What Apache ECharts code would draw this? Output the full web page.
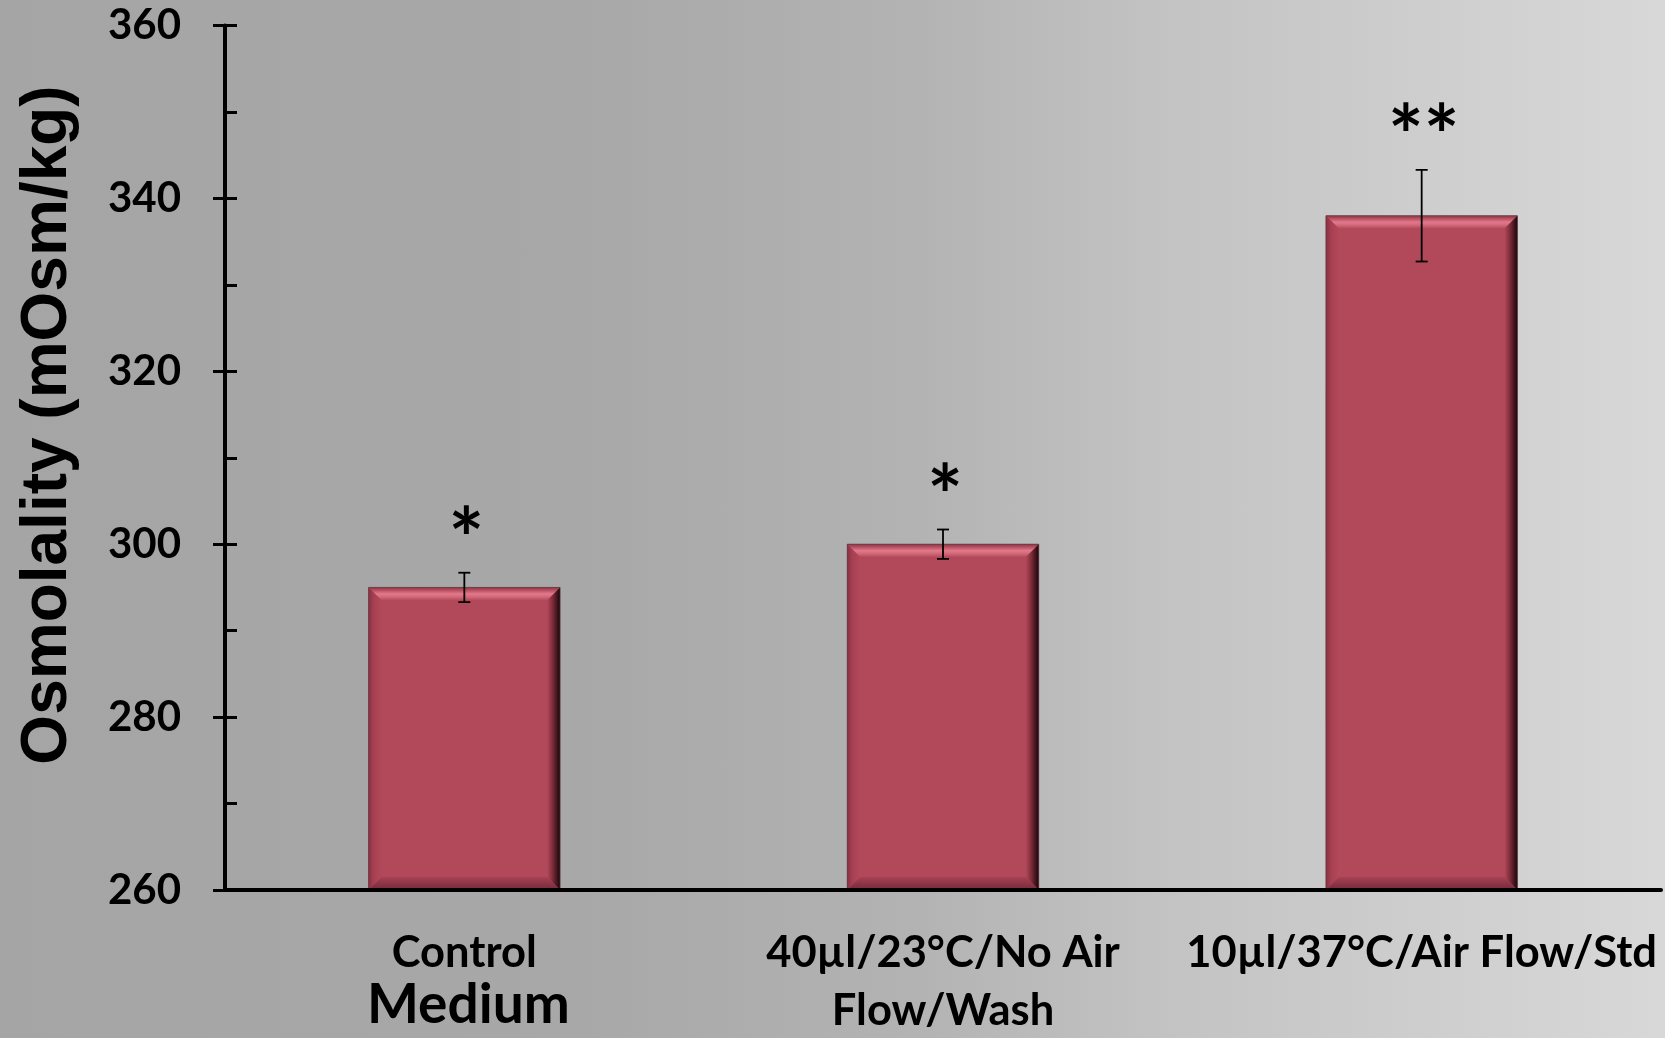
<!DOCTYPE html>
<html>
<head>
<meta charset="utf-8">
<script src="https://cdn.jsdelivr.net/npm/echarts@6/dist/echarts.min.js"></script>
<style>
  html, body { margin: 0; padding: 0; }
  #chart {
    width: 1665px; height: 1038px;
    background: linear-gradient(to right, #a5a5a5 0%, #a8a8a8 35%, #b3b3b3 55%, #c3c3c3 70%, #cacaca 80%, #d8d8d8 100%);
  }
</style>
</head>
<body>
<div id="chart"></div>
<script>
// Osmolality of culture medium under three handling conditions (mean ± error)
const categories = ['Control\nMedium', '40µl/23°C/No Air\nFlow/Wash', '10µl/37°C/Air Flow/Std'];
const means = [295, 300, 338];
const errors = [1.7, 1.7, 5.3];
const significance = ['*', '*', '**'];
const yTicks = { min: 260, max: 360, interval: 20 };
const yTitle = 'Osmolality (mOsm/kg)';

const labelFont = 'Lato';
const chart = echarts.init(document.getElementById('chart'), null, { renderer: 'canvas' });

const barData = means.map((v, i) => [i, v]);
const errData = means.map((v, i) => [i, v - errors[i], v + errors[i]]);

const BAR_FRACTION = 0.4;
const BEVEL = 13;

function lg(x0, y0, x1, y1, stops) {
  return new echarts.graphic.LinearGradient(x0, y0, x1, y1,
    stops.map(s => ({ offset: s[0], color: s[1] })));
}

// Bevelled bar: flat face plus four shaded edge trapezoids
function renderBar(params, api) {
  const i = api.value(0);
  const top = api.coord([i, api.value(1)]);
  const base = api.coord([i, yTicks.min]);
  const w = api.size([1, 0])[0] * BAR_FRACTION;
  const x0 = top[0] - w / 2, x1 = top[0] + w / 2;
  const y0 = top[1], y1 = base[1];
  const d = BEVEL;
  const face = '#b2495a';
  return {
    type: 'group',
    children: [
      { type: 'rect', shape: { x: x0, y: y0, width: w, height: y1 - y0 }, style: { fill: face } },
      { type: 'polygon', shape: { points: [[x0, y0], [x1, y0], [x1 - d, y0 + d], [x0 + d, y0 + d]] },
        style: { fill: lg(0, 0, 0, 1, [[0, '#8c3848'], [0.2, '#b44c5e'], [0.5, '#e27a8b'], [0.75, '#d06576'], [1, face]]) } },
      { type: 'polygon', shape: { points: [[x0, y0], [x0 + d, y0 + d], [x0 + d, y1 - d], [x0, y1]] },
        style: { fill: lg(0, 0, 1, 0, [[0, '#8a3142'], [0.4, '#a64052'], [1, face]]) } },
      { type: 'polygon', shape: { points: [[x1 - d, y0 + d], [x1, y0], [x1, y1], [x1 - d, y1 - d]] },
        style: { fill: lg(0, 0, 1, 0, [[0, face], [0.45, '#7a2a38'], [0.8, '#3a121a'], [1, '#1c080c']]) } },
      { type: 'polygon', shape: { points: [[x0, y1], [x0 + d, y1 - d], [x1 - d, y1 - d], [x1, y1]] },
        style: { fill: lg(0, 0, 0, 1, [[0, '#a64254'], [1, '#74293a']]) } },
      { type: 'rect', shape: { x: x0, y: y0, width: w, height: y1 - y0 },
        style: { fill: null, stroke: 'rgba(90,50,58,0.7)', lineWidth: 1 } }
    ]
  };
}

// Error bar with end caps and the significance marker above it
function renderErr(params, api) {
  const i = api.value(0);
  const lo = api.coord([i, api.value(1)]);
  const hi = api.coord([i, api.value(2)]);
  const cx = lo[0];
  const cap = 6;
  const stroke = { stroke: '#000', lineWidth: 1.8 };
  return {
    type: 'group',
    children: [
      { type: 'line', shape: { x1: cx, y1: lo[1], x2: cx, y2: hi[1] }, style: stroke },
      { type: 'line', shape: { x1: cx - cap, y1: lo[1], x2: cx + cap, y2: lo[1] }, style: stroke },
      { type: 'line', shape: { x1: cx - cap, y1: hi[1], x2: cx + cap, y2: hi[1] }, style: stroke },
      { type: 'text', style: { text: significance[params.dataIndex], x: cx + 2, y: hi[1] - 31, align: 'center', verticalAlign: 'middle',
        font: 'bold 84px ' + labelFont, fill: '#000' } }
    ]
  };
}

const axisBase = {
  type: 'value', min: yTicks.min, max: yTicks.max, interval: yTicks.interval, position: 'left',
  splitLine: { show: false }
};

chart.setOption({
  animation: false,
  backgroundColor: 'transparent',
  grid: { left: 225, right: 4, top: 25.5, bottom: 148 },
  graphic: [{
    type: 'text', x: 48, y: 425, rotation: Math.PI / 2,
    style: { text: yTitle, font: 'bold 64px "Liberation Sans"', fill: '#000', align: 'center', verticalAlign: 'middle' }
  }],
  xAxis: {
    type: 'category', data: categories, z: 5,
    axisLine: { lineStyle: { color: '#000', width: 4 } },
    axisTick: { length: 13, lineStyle: { color: '#000', width: 3 } },
    axisLabel: {
      interval: 0, margin: 34, color: '#000',
      formatter: v => v.split('\n').map(s => (s === 'Medium' ? '{m|' : '{a|') + s + '}').join('\n'),
      rich: {
        a: { fontFamily: labelFont, fontWeight: 'bold', fontSize: 43.5, lineHeight: 58, color: '#000' },
        m: { fontFamily: labelFont, fontWeight: 'bold', fontSize: 55, lineHeight: 46, color: '#000', padding: [0, 0, 0, 8] }
      }
    }
  },
  yAxis: [
    Object.assign({}, axisBase, {
      z: 5,
      axisLine: { show: true, lineStyle: { color: '#000', width: 4 } },
      axisTick: { show: true, inside: true, length: 12, lineStyle: { color: '#000', width: 3 } },
      minorTick: { show: true, splitNumber: 2, length: 12, lineStyle: { color: '#000', width: 3 } },
      axisLabel: { margin: 44, color: '#000', fontFamily: labelFont, fontWeight: 'bold', fontSize: 42 }
    }),
    Object.assign({}, axisBase, {
      z: 5,
      axisLine: { show: false },
      axisTick: { show: true, inside: false, length: 12, lineStyle: { color: '#000', width: 3 } },
      axisLabel: { show: false }
    })
  ],
  series: [
    { type: 'custom', renderItem: renderBar, data: barData, encode: { x: 0, y: 1 }, z: 2 },
    { type: 'custom', renderItem: renderErr, data: errData, encode: { x: 0, y: [1, 2] }, z: 3 }
  ]
});
</script>
</body>
</html>
